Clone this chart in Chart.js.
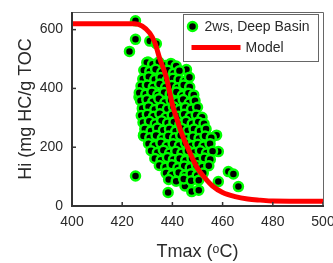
<!DOCTYPE html>
<html><head><meta charset="utf-8">
<script src="https://cdn.jsdelivr.net/npm/chart.js@4"></script>
<style>html,body{margin:0;padding:0;background:#fff}#w{width:333px;height:263px}</style>
</head><body><div id="w"><canvas id="c" width="333" height="263"></canvas></div>
<script>
const xTicks = [400, 420, 440, 460, 480, 500];
const yTicks = [0, 200, 400, 600];
const seriesNames = ["2ws, Deep Basin", "Model"];
const xTitle = "Tmax (ᵒC)";
const yTitle = "Hi (mg HC/g TOC";

const modelX = [400, 425, 428, 431, 433, 435, 437.5, 440, 442, 444, 446, 448, 450, 453, 456, 460, 465, 470, 475, 480, 500];
const modelY = [620, 620, 612, 588, 556, 500, 440, 345, 290, 240, 200, 162, 128, 95, 68, 46, 32, 24, 20, 17, 16];

const samplePts = [
 [425.3,630],[425.3,567],[422.9,526],[431,561],[433.6,552],[425.3,102],[438.3,46],[445,68],[447.7,49],[450.5,54],
 [458.3,83],[462.3,117],[464.3,109],[466.3,66],[457.6,241],[458.3,185],[434.9,151],[428.5,241],[426.7,371],[445.6,464],[430.3,490],
 [429.8,488],[432.1,482],[434.6,490],[437.2,478],[439.4,485],[441.5,476],
 [428.6,462],[431,458],[433.3,465],[435.8,455],[438.1,462],[440.5,452],[442.8,460],
 [428.2,432],[430.6,440],[433,430],[435.4,437],[437.9,428],[440.2,435],[442.6,430],[445,425],[446.8,438],
 [427.5,408],[430,412],[432.4,405],[434.9,415],[437.3,404],[439.8,410],[442.1,402],[444.5,412],[446.9,405],
 [426.8,385],[429.4,380],[431.8,388],[434.2,378],[436.7,386],[439.1,380],[441.6,388],[444,376],[446.4,384],[448.5,378],
 [427.3,358],[429.8,362],[432.2,355],[434.6,365],[437,352],[439.5,360],[442,355],[444.3,362],[446.7,350],[449,358],
 [428,332],[430.5,338],[433,328],[435.5,336],[438,330],[440.4,338],[442.8,328],[445.2,335],[447.6,330],[450,336],
 [427.6,308],[430,312],[432.5,305],[435,314],[437.4,302],[439.9,310],[442.3,305],[444.7,312],[447.1,304],[449.5,310],[451.8,302],
 [428.3,284],[430.8,288],[433.2,280],[435.7,290],[438.1,282],[440.6,286],[443,278],[445.4,288],[447.9,280],[450.3,286],[452.6,280],
 [429,262],[431.5,255],[434,265],[436.4,258],[438.8,262],[441.3,254],[443.7,264],[446.1,256],[448.6,262],[451,255],[453.4,262],
 [428.5,238],[431,232],[433.5,240],[436,230],[438.4,238],[440.9,232],[443.3,240],[445.8,230],[448.2,236],[450.6,230],[453,238],[455.5,232],
 [430.5,212],[433,206],[435.4,214],[437.9,205],[440.3,212],[442.8,206],[445.2,214],[447.7,205],[450.1,210],[452.5,204],[455,212],
 [431.5,188],[434,182],[436.4,190],[438.9,180],[441.3,186],[443.8,180],[446.2,188],[448.7,182],[451.1,188],[453.6,180],[456,186],
 [433,162],[435.5,156],[438,165],[440.4,158],[442.9,162],[445.3,155],[447.8,162],[450.2,156],[452.7,163],[455.1,158],
 [434.8,138],[437.3,132],[439.8,140],[442.2,130],[444.7,136],[447.1,130],[449.6,138],[452,132],[454.5,137],
 [437.5,112],[440,106],[442.5,114],[445,105],[447.4,110],[449.9,104],[452.3,112],
 [438.5,90],[441.5,84],[444.5,92],[447.5,86],[450.5,88]
];

const FONT = "'Liberation Sans', Arial, sans-serif";
const TXT = '#2a2a2a';
const GREEN = '#00ff00';

const framePlugin = {
  id: 'frame',
  afterDatasetsDraw(chart) {
    const {ctx, chartArea: a, scales: {x, y}} = chart;
    ctx.save();
    ctx.strokeStyle = '#333'; ctx.lineWidth = 1.5;
    xTicks.forEach(v => { const px = x.getPixelForValue(v); ctx.beginPath(); ctx.moveTo(px, a.bottom); ctx.lineTo(px, a.bottom - 4); ctx.stroke(); });
    yTicks.forEach(v => { const py = y.getPixelForValue(v); ctx.beginPath(); ctx.moveTo(a.left, py); ctx.lineTo(a.left + 4, py); ctx.stroke(); });
    ctx.strokeStyle = '#666'; ctx.lineWidth = 1;
    ctx.beginPath(); ctx.moveTo(a.left, a.top + 0.5); ctx.lineTo(a.right + 0.5, a.top + 0.5); ctx.lineTo(a.right + 0.5, a.bottom); ctx.stroke();
    ctx.strokeStyle = '#333'; ctx.lineWidth = 2;
    ctx.beginPath(); ctx.moveTo(a.left, a.top); ctx.lineTo(a.left, a.bottom); ctx.lineTo(a.right + 1, a.bottom); ctx.stroke();
    const lx = a.left + 111.5, ly = a.top + 2.5, lw = 135, lh = 47;
    ctx.fillStyle = '#fff'; ctx.fillRect(lx, ly, lw, lh);
    ctx.strokeStyle = '#666'; ctx.lineWidth = 1; ctx.strokeRect(lx, ly, lw, lh);
    ctx.beginPath(); ctx.arc(lx + 9, ly + 12, 4.5, 0, Math.PI * 2);
    ctx.fillStyle = '#000'; ctx.fill(); ctx.strokeStyle = GREEN; ctx.lineWidth = 2.5; ctx.stroke();
    ctx.fillStyle = TXT; ctx.font = '14px ' + FONT; ctx.textBaseline = 'middle'; ctx.textAlign = 'left';
    ctx.fillText(seriesNames[0], lx + 21, ly + 13);
    ctx.strokeStyle = '#ff0000'; ctx.lineWidth = 5;
    ctx.beginPath(); ctx.moveTo(lx + 8, ly + 33); ctx.lineTo(lx + 57, ly + 33); ctx.stroke();
    ctx.fillText(seriesNames[1], lx + 62, ly + 34);
    ctx.restore();
  }
};

new Chart(document.getElementById('c'), {
  type: 'scatter',
  data: {
    datasets: [
      { label: seriesNames[1], type: 'line', data: modelX.map((v, i) => ({x: v, y: modelY[i]})),
        borderColor: '#ff0000', borderWidth: 5, pointRadius: 0, fill: false,
        cubicInterpolationMode: 'monotone', order: 0 },
      { label: seriesNames[0], data: samplePts.map(p => ({x: p[0], y: p[1]})),
        backgroundColor: '#000', borderColor: GREEN, borderWidth: 2.5, pointRadius: 4.5, order: 1 }
    ]
  },
  options: {
    responsive: false, animation: false, devicePixelRatio: 1,
    layout: { padding: { top: 12, right: 10, left: 0, bottom: 0 } },
    plugins: { legend: { display: false }, tooltip: { enabled: false } },
    scales: {
      x: { type: 'linear', min: 400, max: 500,
        afterBuildTicks: s => { s.ticks = xTicks.map(v => ({value: v})); },
        afterFit: s => { s.height = 57; s.paddingRight = 0; s.paddingLeft = 0; },
        grid: { display: false, drawTicks: false }, border: { display: false },
        ticks: { color: TXT, font: { size: 14, family: FONT }, padding: 8, maxRotation: 0 },
        title: { display: true, text: xTitle, color: TXT, font: { size: 18, family: FONT }, padding: { top: 0, bottom: 0 } } },
      y: { type: 'linear', min: 0, max: 660,
        afterBuildTicks: s => { s.ticks = yTicks.map(v => ({value: v})); },
        afterFit: s => { s.width = 72; s.paddingTop = 0; s.paddingBottom = 0; },
        grid: { display: false, drawTicks: false }, border: { display: false },
        ticks: { color: TXT, font: { size: 14, family: FONT }, padding: 9 },
        title: { display: true, text: yTitle, color: TXT, font: { size: 18, family: FONT }, padding: { top: 15, bottom: 0 } } }
    }
  },
  plugins: [framePlugin]
});
</script>
</body></html>
